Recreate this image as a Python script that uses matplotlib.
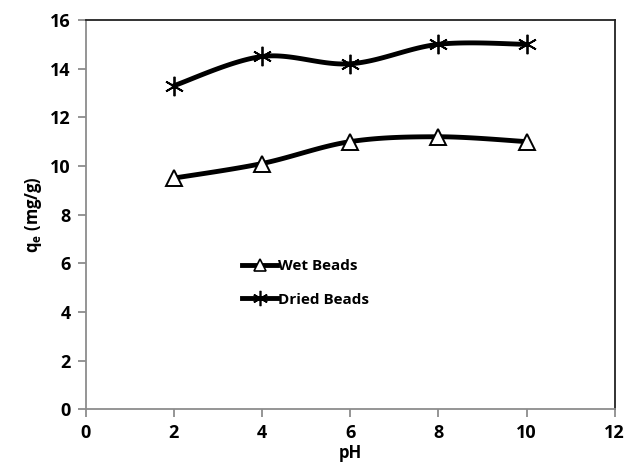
import numpy as np
import matplotlib
matplotlib.use("Agg")
import matplotlib.pyplot as plt
from matplotlib.lines import Line2D

plt.rcParams["font.family"] = ["Open Sans", "DejaVu Sans"]

ph = [2, 4, 6, 8, 10]
wet_beads = [9.5, 10.1, 11.0, 11.2, 11.0]
dried_beads = [13.3, 14.5, 14.2, 15.0, 15.0]


def _smooth(x, y, n=30):
    # Excel-style smoothed line (Catmull-Rom through the points)
    x = np.asarray(x, float)
    y = np.asarray(y, float)
    px = np.concatenate([[x[0]], x, [x[-1]]])
    py = np.concatenate([[y[0]], y, [y[-1]]])
    xs, ys = [], []
    t = np.linspace(0, 1, n)
    for i in range(1, len(px) - 2):
        p0, p1, p2, p3 = (np.array([px[j], py[j]]) for j in range(i - 1, i + 3))
        c1 = p1 + (p2 - p0) / 6
        c2 = p2 - (p3 - p1) / 6
        b = ((1 - t) ** 3)[:, None] * p1 + (3 * (1 - t) ** 2 * t)[:, None] * c1 \
            + (3 * (1 - t) * t ** 2)[:, None] * c2 + (t ** 3)[:, None] * p2
        xs.extend(b[:, 0])
        ys.extend(b[:, 1])
    return xs, ys


STAR = (6, 2, 0)

fig = plt.figure(figsize=(6.26, 4.65), dpi=100)
ax = fig.add_axes([0.137, 0.12, 0.845, 0.837])

for y, mk in [(wet_beads, "^"), (dried_beads, STAR)]:
    sx, sy = _smooth(ph, y)
    ax.plot(sx, sy, color="black", linewidth=3.5, solid_capstyle="round")
    if mk == "^":
        ax.plot(ph, y, linestyle="none", marker="^", markersize=11,
                markerfacecolor="white", markeredgecolor="black", markeredgewidth=1.4)
    else:
        ax.plot(ph, y, linestyle="none", marker=mk, markersize=14,
                markeredgecolor="black", markeredgewidth=1.3)

ax.set_xlim(0, 12)
ax.set_ylim(0, 16)
ax.set_xticks(range(0, 13, 2))
ax.set_yticks(range(0, 17, 2))
for lab in ax.get_xticklabels() + ax.get_yticklabels():
    lab.set_fontweight("bold")
    lab.set_fontsize(13)

for side in ["left", "bottom"]:
    ax.spines[side].set_color("#8c8c8c")
    ax.spines[side].set_linewidth(1.3)
for side in ["top", "right"]:
    ax.spines[side].set_color("#222222")
    ax.spines[side].set_linewidth(1.3)
ax.tick_params(direction="out", length=6, color="#8c8c8c", width=1.3, pad=5)

ax.set_xlabel("pH", fontsize=12, fontweight="bold", labelpad=1)
ax.set_ylabel("q$_\\mathregular{e}$ (mg/g)", fontsize=12, fontweight="bold", labelpad=4)

handles = [
    Line2D([], [], color="black", linewidth=3.5, marker="^", markersize=9,
           markerfacecolor="white", markeredgecolor="black", markeredgewidth=1.2),
    Line2D([], [], color="black", linewidth=3.5, marker=STAR, markersize=11,
           markeredgecolor="black", markeredgewidth=1.2),
]
leg = ax.legend(handles, ["Wet Beads", "Dried Beads"], loc="upper left",
                bbox_to_anchor=(0.27, 0.42), frameon=False, handlelength=2.3,
                handletextpad=0.05, labelspacing=1.25, prop={"weight": "bold", "size": 11})

fig.savefig("out.png", dpi=100)
